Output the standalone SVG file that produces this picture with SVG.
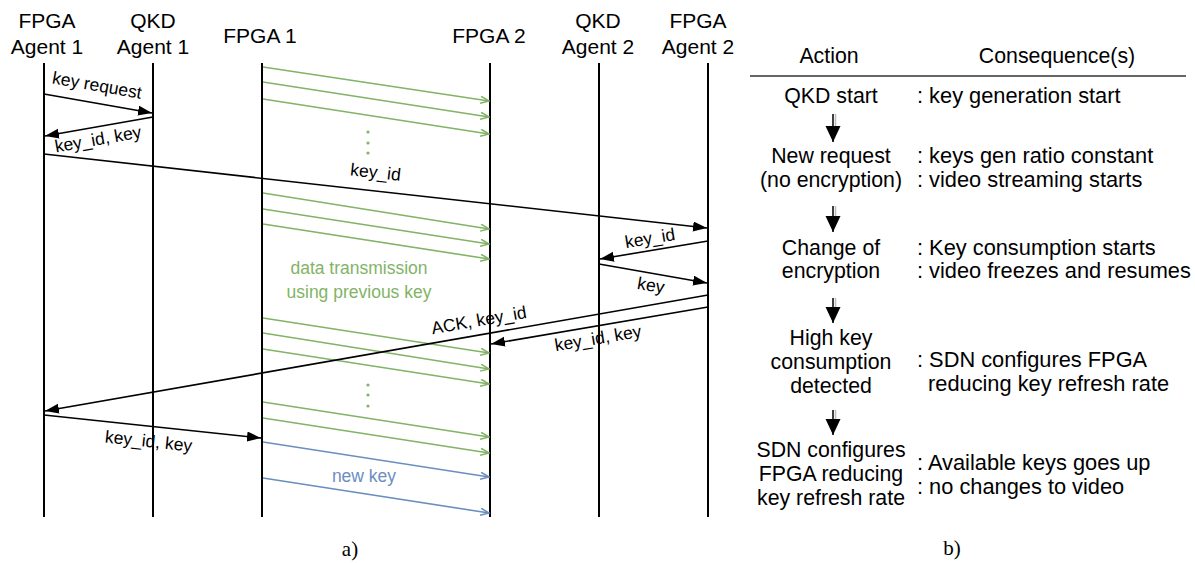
<svg xmlns="http://www.w3.org/2000/svg" width="1195" height="563" viewBox="0 0 1195 563">
<style>
text{font-family:"Liberation Sans",Arial,sans-serif;fill:#000}
.hdr{font-size:21px;text-anchor:middle}
.lbl{font-size:17.5px;text-anchor:middle}
.g{fill:#82b366}
.b{fill:#6c8ebf}
.life{stroke:#000;stroke-width:2;fill:none}
.msg{stroke:#000;stroke-width:1.6;fill:none;marker-end:url(#blk)}
.gm{stroke:#82b366;stroke-width:1.6;fill:none;marker-end:url(#gh)}
.bm{stroke:#6c8ebf;stroke-width:1.6;fill:none;marker-end:url(#bh)}
.rt{font-size:21.8px}
.rc{font-size:21.3px;text-anchor:middle}
.tm{font-family:"Liberation Serif","Times New Roman",serif;font-size:21px;text-anchor:middle}
</style>
<defs>
<marker id="blk" markerUnits="userSpaceOnUse" markerWidth="15" markerHeight="11" refX="14" refY="5" orient="auto">
<path d="M0,0 L14,5 L0,10 z" fill="#000"/>
</marker>
<marker id="gh" markerUnits="userSpaceOnUse" markerWidth="11" markerHeight="9" refX="9.5" refY="4" orient="auto">
<path d="M1,0.5 L9.5,4 L1,7.5" fill="none" stroke="#82b366" stroke-width="1.5"/>
</marker>
<marker id="bh" markerUnits="userSpaceOnUse" markerWidth="11" markerHeight="9" refX="9.5" refY="4" orient="auto">
<path d="M1,0.5 L9.5,4 L1,7.5" fill="none" stroke="#6c8ebf" stroke-width="1.5"/>
</marker>
<marker id="dn" markerUnits="userSpaceOnUse" markerWidth="17" markerHeight="16" refX="16" refY="7.5" orient="auto">
<path d="M0,0 L16,7.5 L0,15 z" fill="#000"/>
</marker>
</defs>

<g id="fpga-agent-1">
<text class="hdr" x="47" y="28">FPGA</text>
<text class="hdr" x="47" y="54">Agent 1</text>
<line class="life" x1="44" y1="63" x2="44" y2="517"/>
</g>
<g id="qkd-agent-1">
<text class="hdr" x="153" y="28">QKD</text>
<text class="hdr" x="153" y="54">Agent 1</text>
<line class="life" x1="153" y1="63" x2="153" y2="517"/>
</g>
<g id="fpga-1">
<text class="hdr" x="260" y="43">FPGA 1</text>
<line class="life" x1="262" y1="63" x2="262" y2="517"/>
</g>
<g id="fpga-2">
<text class="hdr" x="489" y="43">FPGA 2</text>
<line class="life" x1="490" y1="63" x2="490" y2="517"/>
</g>
<g id="qkd-agent-2">
<text class="hdr" x="598" y="28">QKD</text>
<text class="hdr" x="598" y="54">Agent 2</text>
<line class="life" x1="599" y1="63" x2="599" y2="517"/>
</g>
<g id="fpga-agent-2">
<text class="hdr" x="698" y="28">FPGA</text>
<text class="hdr" x="698" y="54">Agent 2</text>
<line class="life" x1="708" y1="63" x2="708" y2="517"/>
</g>

<g id="connectors">
<line class="gm" x1="263" y1="67" x2="489" y2="101"/>
<line class="gm" x1="263" y1="82" x2="489" y2="117"/>
<line class="gm" x1="263" y1="99" x2="489" y2="134"/>
<line class="gm" x1="263" y1="193" x2="489" y2="229"/>
<line class="gm" x1="263" y1="209" x2="489" y2="244"/>
<line class="gm" x1="263" y1="224" x2="489" y2="259"/>
<line class="gm" x1="263" y1="318" x2="489" y2="353"/>
<line class="gm" x1="263" y1="333" x2="489" y2="369"/>
<line class="gm" x1="263" y1="349" x2="489" y2="384"/>
<line class="gm" x1="263" y1="402" x2="489" y2="437"/>
<line class="gm" x1="263" y1="418" x2="489" y2="453"/>
<line class="bm" x1="263" y1="442" x2="489" y2="477"/>
<line class="bm" x1="263" y1="478" x2="489" y2="513"/>
<g fill="#82b366">
<circle cx="368" cy="132" r="1.6"/><circle cx="368" cy="143" r="1.6"/><circle cx="368" cy="153" r="1.6"/>
<circle cx="368" cy="385" r="1.6"/><circle cx="368" cy="395" r="1.6"/><circle cx="368" cy="406" r="1.6"/>
</g>
<text class="lbl g" x="359" y="274">data transmission</text>
<text class="lbl g" x="359" y="298">using previous key</text>
<text class="lbl b" x="364" y="482">new key</text>

<line class="msg" x1="44" y1="94" x2="152" y2="113"/>
<text class="lbl" x="96" y="91" transform="rotate(10 96 91)">key request</text>
<line class="msg" x1="153" y1="117" x2="45" y2="136"/>
<text class="lbl" x="99" y="145" transform="rotate(-10 99 145)">key_id, key</text>
<line class="msg" x1="44" y1="154" x2="707" y2="228"/>
<text class="lbl" x="375" y="178" transform="rotate(6.4 375 178)">key_id</text>
<line class="msg" x1="708" y1="241" x2="600" y2="259"/>
<text class="lbl" x="651" y="244" transform="rotate(-9.4 651 244)">key_id</text>
<line class="msg" x1="599" y1="264" x2="707" y2="283"/>
<text class="lbl" x="650" y="291" transform="rotate(9.9 650 291)">key</text>
<line class="msg" x1="708" y1="295" x2="45" y2="411"/>
<text class="lbl" x="480" y="326" transform="rotate(-9.9 480 326)">ACK, key_id</text>
<line class="msg" x1="708" y1="307" x2="491" y2="344"/>
<text class="lbl" x="599" y="344" transform="rotate(-9.6 599 344)">key_id, key</text>
<line class="msg" x1="44" y1="415" x2="261" y2="438"/>
<text class="lbl" x="148" y="447" transform="rotate(6 148 447)">key_id, key</text>
</g>

<text class="tm" x="350" y="556">a)</text>

<g id="table">
<text class="rc" x="829" y="63">Action</text>
<text class="rc" x="1057" y="63">Consequence(s)</text>
<line x1="750" y1="76" x2="1186" y2="76" stroke="#333" stroke-width="1.5"/>
</g>
<g id="row-qkd-start">
<text class="rc" x="831" y="103">QKD start</text>
<text class="rt" x="917" y="103">: key generation start</text>
</g>
<g id="row-new-request">
<text class="rc" x="831" y="163">New request</text>
<text class="rc" x="831" y="187">(no encryption)</text>
<text class="rt" x="917" y="163">: keys gen ratio constant</text>
<text class="rt" x="917" y="187">: video streaming starts</text>
</g>
<g id="row-change">
<text class="rc" x="831" y="255">Change of</text>
<text class="rc" x="831" y="278">encryption</text>
<text class="rt" x="917" y="255">: Key consumption starts</text>
<text class="rt" x="917" y="278">: video freezes and resumes</text>
</g>
<g id="row-high">
<text class="rc" x="831" y="345">High key</text>
<text class="rc" x="831" y="369">consumption</text>
<text class="rc" x="831" y="393">detected</text>
<text class="rt" x="917" y="367">: SDN configures FPGA</text>
<text class="rt" x="928" y="391">reducing key refresh rate</text>
</g>
<g id="row-sdn">
<text class="rc" x="831" y="457">SDN configures</text>
<text class="rc" x="831" y="481">FPGA reducing</text>
<text class="rc" x="831" y="505">key refresh rate</text>
<text class="rt" x="917" y="470">: Available keys goes up</text>
<text class="rt" x="917" y="494">: no changes to video</text>
</g>
<g id="flow-arrows">
<g stroke="#bbb" stroke-width="1.5">
<line x1="835.5" y1="114" x2="835.5" y2="126"/>
<line x1="835.5" y1="206" x2="835.5" y2="217"/>
<line x1="835.5" y1="298" x2="835.5" y2="308"/>
<line x1="835.5" y1="410" x2="835.5" y2="420"/>
</g>
<g stroke="#000" stroke-width="1.5" marker-end="url(#dn)">
<line x1="833" y1="114" x2="833" y2="142"/>
<line x1="833" y1="206" x2="833" y2="232"/>
<line x1="833" y1="298" x2="833" y2="323"/>
<line x1="833" y1="410" x2="833" y2="435"/>
</g>
</g>
<text class="tm" x="952" y="555">b)</text>
</svg>
